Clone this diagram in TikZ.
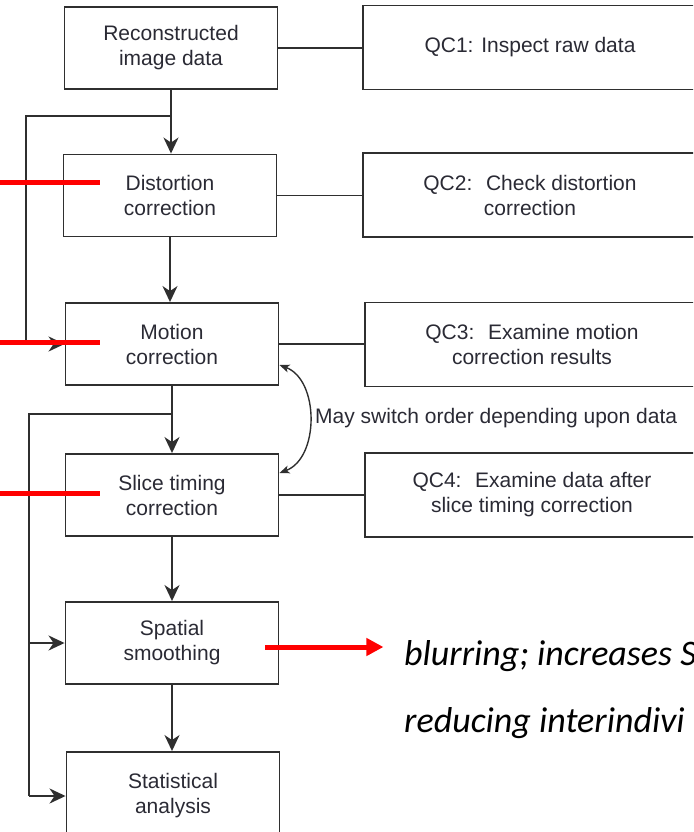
\documentclass[tikz,border=0pt]{standalone}
\usepackage{fontspec}
\setmainfont{Liberation Sans}
\newfontfamily\notefont{Carlito}
\usepackage{xcolor}
\usepackage{tikz}
\usetikzlibrary{positioning, arrows.meta, calc}
\definecolor{boxgray}{HTML}{2F2F2F}
\definecolor{txtgray}{HTML}{2A2A34}
\definecolor{hlred}{HTML}{FF0000}

\begin{document}
\begin{tikzpicture}[
    x=1pt, y=-1pt,
    stepbox/.style={draw=boxgray, line width=1.9pt, minimum width=213pt, minimum height=82pt, inner sep=0pt, align=center, text=txtgray, font=\fontsize{21}{25}\selectfont},
    qcbox/.style={stepbox, minimum width=334pt, minimum height=84pt},
    link/.style={draw=boxgray, line width=1.9pt},
    flow/.style={link, -{Stealth[length=16pt, width=15pt, inset=5pt]}},
    swap/.style={draw=boxgray, line width=1.4pt, {Stealth[length=10pt, width=8pt, inset=2.5pt]}-{Stealth[length=10pt, width=8pt, inset=2.5pt]}},
    redbar/.style={draw=hlred, line width=5pt},
    redarrow/.style={redbar, -{Triangle[length=17pt, width=17pt]}},
    note/.style={anchor=base west, inner sep=0pt, font=\notefont\itshape\fontsize{36}{36}\selectfont},
]
\useasboundingbox (0,0) rectangle (693,832);
\clip (0,0) rectangle (693,832);

% Pipeline steps
\node[stepbox] (recon) at (171,48) {Reconstructed\\image data};
\node[stepbox] (dist) at (170,195.5) {Distortion\\correction};
\node[stepbox] (motion) at (172,344) {Motion\\correction};
\node[stepbox] (slice) at (172,495) {Slice timing\\correction};
\node[stepbox] (smooth) at (172,643) {Spatial\\smoothing};
\node[stepbox, minimum height=88pt] (stats) at (173,796) {Statistical\\analysis};

% Quality checks
\node[qcbox] (qc1) at (530,47.5) {QC1: Inspect raw data};
\node[qcbox] (qc2) at (530,195) {QC2:~ Check distortion\\correction};
\node[qcbox] (qc3) at (532,344.5) {QC3:~ Examine motion\\correction results};
\node[qcbox] (qc4) at (532,495) {QC4:~ Examine data after\\slice timing correction};

\foreach \s/\q in {recon/qc1, dist/qc2, motion/qc3, slice/qc4} {
    \draw[link] (\s.east) -- (\s.east -| \q.west);
}

% Main flow
\draw[flow] (recon.south) -- (recon.south |- dist.north);
\draw[flow] (dist.south) -- (dist.south |- motion.north);
\draw[flow] (motion.south) -- (motion.south |- slice.north);
\draw[flow] (slice.south) -- (slice.south |- smooth.north);
\draw[flow] (smooth.south) -- (smooth.south |- stats.north);

% Skip paths
\coordinate (fb1) at ([yshift=-26pt]recon.south);
\coordinate (left1) at (26,0);
\draw[flow] (fb1) -- (fb1 -| left1) -- (left1 |- motion.west) -- (motion.west);

\coordinate (fb2) at ([yshift=-28pt]motion.south);
\coordinate (left2) at (29,0);
\draw[link] (fb2) -- (fb2 -| left2) -- (left2 |- stats.west);
\draw[flow] (left2 |- smooth.west) -- (smooth.west);
\draw[flow] (left2 |- stats.west) -- (stats.west);

% Order swap
\coordinate (swA) at ([yshift=-21pt]motion.east);
\coordinate (swB) at ([yshift=22pt]slice.east);
\draw[swap] (swA) .. controls ([xshift=40pt, yshift=-15pt]swA) and ([xshift=40pt, yshift=15pt]swB) .. (swB);
\node[anchor=west, inner sep=0pt, text=txtgray, font=\fontsize{21}{25}\selectfont] (swaplabel) at (315,418) {May switch order depending upon data};

% Highlights
\foreach \y in {182,342,493} {
    \draw[redbar] (0,\y) -- (100,\y);
}
\node[note] (note1) at (404,665) {blurring; increases S};
\node[note] (note2) at (404,732) {reducing interindivi};
\draw[redarrow] ([xshift=-14pt, yshift=-4pt]smooth.east) -- ++(118,0);

\end{tikzpicture}
\end{document}
